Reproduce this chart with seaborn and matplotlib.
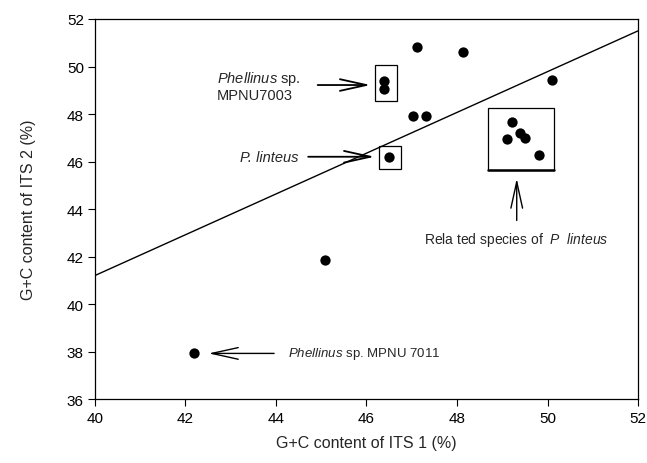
import numpy as np
import pandas as pd
import matplotlib
matplotlib.use("Agg")
import matplotlib.pyplot as plt
from matplotlib.patches import Rectangle
import seaborn as sns

# G+C content (%)
its1 = [42.19, 45.08, 46.39, 46.39, 46.50, 47.11, 47.03, 47.31, 48.13, 50.11,
        49.21, 49.10, 49.39, 49.50, 49.82]
its2 = [37.92, 41.85, 49.40, 49.05, 46.20, 50.81, 47.93, 47.93, 50.62, 49.44,
        47.65, 46.95, 47.19, 46.98, 46.27]

# regression line end points
fit_x = [40, 52]
fit_y = [41.2, 51.5]

sns.set_style("ticks")
plt.rcParams['font.family'] = ['Liberation Sans', 'DejaVu Sans']
plt.rcParams['mathtext.fontset'] = 'custom'
plt.rcParams['mathtext.rm'] = 'Liberation Sans'
plt.rcParams['mathtext.it'] = 'Liberation Sans:italic'

df = pd.DataFrame({"ITS1": its1, "ITS2": its2})

fig = plt.figure(figsize=(6.47, 4.64), dpi=100)
ax = fig.add_axes([0.1468, 0.1379, 0.8393, 0.819])

sns.lineplot(x=fit_x, y=fit_y, ax=ax, color="black", lw=1.0)
sns.scatterplot(data=df, x="ITS1", y="ITS2", ax=ax, color="black", s=55,
                edgecolor="black", linewidth=0, zorder=3)

ax.set_xlim(40, 52)
ax.set_ylim(36, 52)
ax.set_xticks(np.arange(40, 53, 2))
ax.set_yticks(np.arange(36, 53, 2))
ax.tick_params(labelsize=11, length=5, width=0.8, direction="out", colors="black")
ax.tick_params(axis="y", pad=3)
for s in ax.spines.values():
    s.set_linewidth(0.9)
    s.set_color("black")
ax.set_xlabel("G+C content of ITS 1 (%)", fontsize=11.5, labelpad=7)
ax.set_ylabel("G+C content of ITS 2 (%)", fontsize=11.5, labelpad=22)

# boxes around groups
for (x0, x1, y0, y1) in [(46.19, 46.67, 48.56, 50.06),
                         (46.28, 46.76, 45.68, 46.67),
                         (48.69, 50.15, 45.64, 48.25)]:
    ax.add_patch(Rectangle((x0, y0), x1 - x0, y1 - y0, fill=False,
                           edgecolor="black", lw=0.9, zorder=2))
ax.plot([48.69, 50.15], [45.64, 45.64], color="black", lw=1.8)

arrow = dict(arrowstyle="->,head_length=1.9,head_width=0.42", color="black", lw=1.0)

ax.annotate("", xy=(46.15, 49.22), xytext=(44.86, 49.22),
            arrowprops=dict(arrow, lw=1.3))
ax.text(42.69, 49.2, "$\\it{Phellinus}$ sp.\nMPNU7003", fontsize=10.5,
        ha="left", va="center", linespacing=1.15)

ax.annotate("", xy=(46.24, 46.2), xytext=(44.65, 46.2),
            arrowprops=dict(arrow, lw=1.3))
ax.text(44.49, 46.2, "P. linteus", fontsize=10.5, style="italic",
        ha="right", va="center")

ax.annotate("", xy=(49.32, 45.4), xytext=(49.32, 43.4), arrowprops=arrow)
ax.text(49.31, 42.72, "Rela ted species of  $\\it{P}$  $\\it{linteus}$", fontsize=10,
        ha="center", va="center")

ax.annotate("", xy=(42.45, 37.92), xytext=(44.02, 37.92), arrowprops=arrow)
ax.text(44.27, 37.92, "$\\it{Phellinus}$ sp. MPNU 7011", fontsize=9.5,
        ha="left", va="center")

fig.savefig("out.png", dpi=100)
